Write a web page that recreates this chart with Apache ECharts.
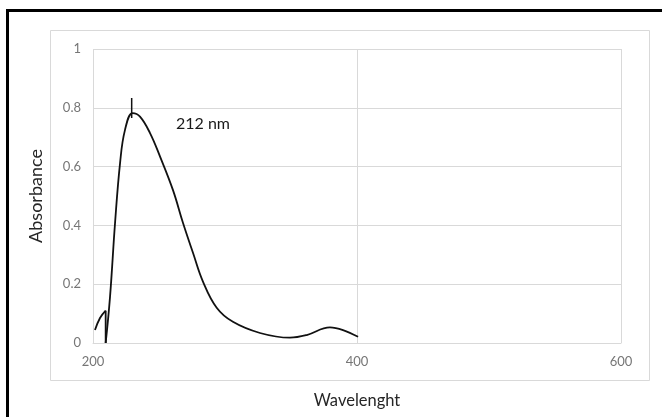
<!DOCTYPE html>
<html>
<head>
<meta charset="utf-8">
<script src="https://cdn.jsdelivr.net/npm/echarts@6/dist/echarts.min.js"></script>
<style>
  html, body { margin: 0; padding: 0; background: #fff; }
  #chart { width: 662px; height: 417px; }
</style>
</head>
<body>
<div id="chart"></div>
<script>
// ---- Data ----
const xTicks = [200, 400, 600];
const yTicks = [0, 0.2, 0.4, 0.6, 0.8, 1];

// small shoulder before the sharp drop
const bumpWavelength = [201.5, 205.3, 209.6];
const bumpAbsorbance = [0.044, 0.085, 0.11];

// sharp drop to zero
const dropWavelength = [209.6, 209.6];
const dropAbsorbance = [0.11, 0];

// main absorption band
const mainWavelength = [209.6, 212.9, 216.7, 220.5, 224.2, 230.0, 235.6, 243.2, 250.8, 260.6, 268.2, 275.8, 283.3, 293.7, 306.0, 326.5, 349.2, 361.9, 379.5, 389.4, 400.8];
const mainAbsorbance = [0, 0.157, 0.408, 0.612, 0.724, 0.782, 0.77, 0.714, 0.634, 0.52, 0.408, 0.306, 0.209, 0.12, 0.072, 0.034, 0.018, 0.027, 0.053, 0.044, 0.021];

// vertical peak marker
const markerWavelength = [229.3, 229.3];
const markerAbsorbance = [0.765, 0.833];

const peakLabel = '212 nm';
const xName = 'Wavelenght';
const yName = 'Absorbance';

function pairs(xs, ys) { return xs.map((x, i) => [x, ys[i]]); }

const FONT = 'Lato, "Open Sans", sans-serif';
const lineStyle = { color: '#111', width: 1.8 };

const chart = echarts.init(document.getElementById('chart'), null, { renderer: 'canvas' });
chart.setOption({
  animation: false,
  backgroundColor: '#fff',
  grid: { left: 93, right: 41, top: 49, bottom: 74, containLabel: false },
  xAxis: {
    type: 'value', min: xTicks[0], max: xTicks[xTicks.length - 1], interval: 200,
    name: xName, nameLocation: 'middle', nameGap: 49,
    nameTextStyle: { fontFamily: FONT, fontSize: 16.5, color: '#262626' },
    axisLine: { show: true, lineStyle: { color: '#d9d9d9', width: 1 } },
    axisTick: { show: false },
    axisLabel: { fontFamily: FONT, fontSize: 13, color: '#767676', margin: 12 },
    splitLine: { show: true, lineStyle: { color: '#d9d9d9', width: 1 } }
  },
  yAxis: {
    type: 'value', min: yTicks[0], max: yTicks[yTicks.length - 1], interval: 0.2,
    name: yName, nameLocation: 'middle', nameGap: 43, nameRotate: 90,
    nameTextStyle: { fontFamily: FONT, fontSize: 18, color: '#262626', backgroundColor: '#fff', padding: [5, 6] },
    axisLine: { show: false },
    axisTick: { show: false },
    axisLabel: { fontFamily: FONT, fontSize: 13, color: '#767676', margin: 12 },
    splitLine: { show: true, lineStyle: { color: '#d9d9d9', width: 1 } }
  },
  graphic: [
    { type: 'rect', z: -10, shape: { x: 50.5, y: 30.5, width: 599, height: 350 }, style: { fill: 'none', stroke: '#d9d9d9', lineWidth: 1 } },
    { type: 'polyline', z: 10, shape: { points: [[7.5, 417], [7.5, 10.5], [662, 10.5]] }, style: { fill: 'none', stroke: '#000', lineWidth: 3 } },
    { type: 'text', z: 10, left: 176, top: 116, style: { text: peakLabel, fontFamily: FONT, fontSize: 16, fill: '#1a1a1a' } }
  ],
  series: [
    { type: 'line', data: pairs(bumpWavelength, bumpAbsorbance), smooth: 0.4, showSymbol: false, lineStyle: lineStyle, z: 3 },
    { type: 'line', data: pairs(dropWavelength, dropAbsorbance), smooth: false, showSymbol: false, lineStyle: lineStyle, z: 3 },
    { type: 'line', data: pairs(mainWavelength, mainAbsorbance), smooth: 0.4, showSymbol: false, lineStyle: lineStyle, z: 3 },
    { type: 'line', data: pairs(markerWavelength, markerAbsorbance), smooth: false, showSymbol: false, lineStyle: { color: '#111', width: 1.5 }, z: 3 }
  ]
});
</script>
</body>
</html>
